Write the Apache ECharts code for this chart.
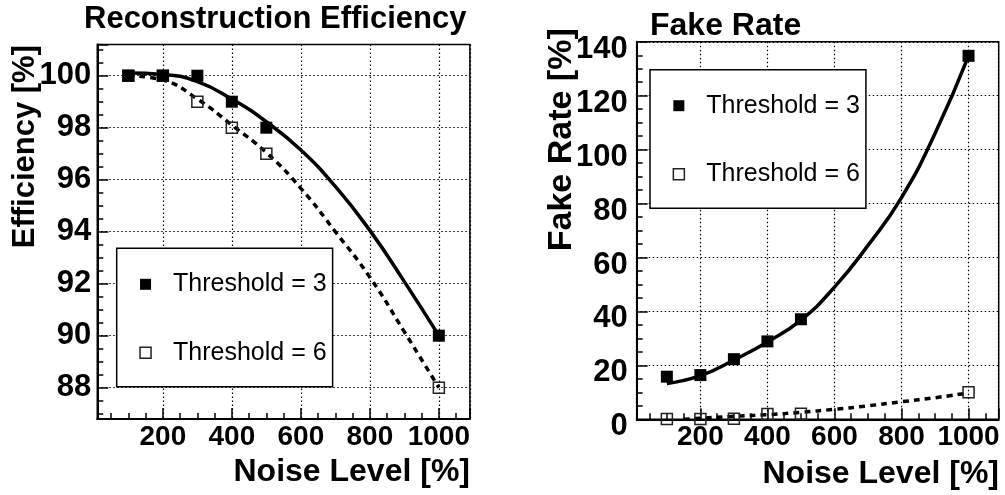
<!DOCTYPE html>
<html>
<head>
<meta charset="utf-8">
<script src="https://cdn.jsdelivr.net/npm/echarts@6/dist/echarts.min.js"></script>
<style>
  html, body { margin: 0; padding: 0; background: #fff; }
  #chart { width: 1005px; height: 495px; }
</style>
</head>
<body>
<div id="chart"></div>
<script>
// Noise levels at which the reconstruction was evaluated [%]
const noiseLevels = [100, 200, 300, 400, 500, 1000];

// Reconstruction efficiency [%] per clustering threshold
const effThreshold3 = [100, 100, 100, 99, 98, 90];
const effThreshold6 = [100, 100, 99, 98, 97, 88];

// Fake rate [%] per clustering threshold
const fakeThreshold3 = [15.8, 16.4, 22.3, 28.9, 37.1, 134.8];
const fakeThreshold6 = [0.1, 0.1, 0.2, 2.0, 2.1, 10.0];

// Fitted trend curves, sampled along the noise axis
const fitNoise = [100, 200, 300, 400, 500, 600, 700, 800, 900, 1000];
const effFit3 = [100.1, 100.05, 99.77, 99.1, 98.23, 97.14, 95.74, 94.05, 92.08, 90.0];
const effFit6 = [100.0, 99.83, 99.1, 98.1, 97.04, 95.67, 94.0, 92.25, 90.15, 88.0];
const fakeFit3 = [13.3, 16.2, 22.0, 28.7, 36.8, 49.0, 64.5, 82.2, 106.0, 134.8];
const fakeFit6Noise = [150, 200, 300, 400, 500, 600, 700, 800, 900, 1000];
const fakeFit6 = [0.0, 0.4, 1.1, 1.7, 2.6, 3.7, 5.0, 6.5, 8.0, 9.8];

// Axis titles
const xTitle = 'Noise Level [%]';
const effTitle = 'Efficiency [%]';
const fakeTitle = 'Fake Rate [%]';
const legendNames = ['Threshold = 3', 'Threshold = 6'];

const FONT = '"Liberation Sans", Arial, Helvetica, sans-serif';
const plain = v => String(v);

function pairs(xs, ys) {
  return xs.map((x, i) => [x, ys[i]]);
}

function noiseAxis(gridIndex) {
  return {
    type: 'value', gridIndex: gridIndex,
    min: 10, max: 1090, splitNumber: 5,
    axisLine: { show: true, onZero: false, lineStyle: { color: '#000', width: 2 } },
    axisTick: { show: true, inside: true, length: 11, lineStyle: { color: '#000', width: 1.5 } },
    minorTick: { show: true, splitNumber: 4, length: 6, lineStyle: { color: '#000', width: 1.5 } },
    axisLabel: {
      showMinLabel: false, showMaxLabel: false, margin: 4, formatter: plain,
      color: '#000', fontSize: 28, fontWeight: 'bold', fontFamily: FONT
    },
    splitLine: { show: true, lineStyle: { color: '#000', width: 1.2, type: [1.5, 2.5] } }
  };
}

function valueAxis(gridIndex, extra, labelExtra) {
  return Object.assign({
    type: 'value', gridIndex: gridIndex,
    axisLine: { show: true, onZero: false, lineStyle: { color: '#000', width: 2 } },
    axisTick: { show: true, inside: true, length: 11, lineStyle: { color: '#000', width: 1.5 } },
    minorTick: { show: true, splitNumber: 4, length: 6, lineStyle: { color: '#000', width: 1.5 } },
    axisLabel: Object.assign({
      margin: 6, formatter: plain, color: '#000', fontSize: 31, fontWeight: 'bold', fontFamily: FONT
    }, labelExtra),
    splitLine: { show: true, lineStyle: { color: '#000', width: 1.2, type: [1.5, 2.5] } }
  }, extra);
}

function fitLine(gridIndex, name, data, dashed) {
  return {
    type: 'line', name: name, xAxisIndex: gridIndex, yAxisIndex: gridIndex,
    data: data, smooth: 0.5, showSymbol: false, symbol: 'none', silent: true,
    clip: true,
    lineStyle: { color: '#000', width: 3.5, type: dashed ? [6, 5] : 'solid' },
    z: 2
  };
}

function markers(gridIndex, name, data, filled) {
  return {
    type: 'scatter', name: name, xAxisIndex: gridIndex, yAxisIndex: gridIndex,
    data: data, symbol: 'rect', symbolSize: filled ? 12 : 11,
    itemStyle: filled
      ? { color: '#000', opacity: 1 }
      : { color: 'rgba(255,255,255,0)', borderColor: '#222', borderWidth: 1.5, opacity: 1 },
    z: 3
  };
}

function legendBox(left, top) {
  return {
    orient: 'vertical', left: left, top: top,
    padding: [21, 6, 19, 22.6], itemGap: 38.5,
    itemWidth: 11, itemHeight: 11, icon: 'rect',
    backgroundColor: '#fff', borderColor: '#000', borderWidth: 1.5,
    selectedMode: false,
    textStyle: { fontSize: 25, color: '#000', fontFamily: FONT, lineHeight: 30, padding: [0, 0, 0, 17] },
    data: [
      { name: legendNames[0], itemStyle: { color: '#000', borderWidth: 0 } },
      { name: legendNames[1], itemStyle: { color: '#fff', borderColor: '#222', borderWidth: 1.5 } }
    ],
    z: 10
  };
}

function titleText(x, y, text, size, rotated) {
  return {
    type: 'text', x: x, y: y, rotation: rotated ? Math.PI / 2 : 0, z: 20,
    style: {
      text: text, fill: '#000',
      font: 'bold ' + size + 'px ' + FONT,
      align: 'right', verticalAlign: 'middle',
      textAlign: 'right', textVerticalAlign: 'middle'
    }
  };
}

const chart = echarts.init(document.getElementById('chart'), null, { renderer: 'canvas' });

chart.setOption({
  animation: false,
  backgroundColor: '#fff',
  title: [
    { text: 'Reconstruction Efficiency', left: 84, top: 4, padding: 0,
      textStyle: { fontSize: 31, fontWeight: 'bold', color: '#000', fontFamily: FONT, lineHeight: 30 } },
    { text: 'Fake Rate', left: 650, top: 11, padding: 0,
      textStyle: { fontSize: 32, fontWeight: 'bold', color: '#000', fontFamily: FONT, lineHeight: 30 } }
  ],
  grid: [
    { left: 97.3, top: 44.5, width: 372.6, height: 374.4, show: true,
      borderColor: '#000', borderWidth: 1.5, backgroundColor: 'transparent' },
    { left: 636.7, top: 41.8, width: 362, height: 377.5, show: true,
      borderColor: '#000', borderWidth: 1.5, backgroundColor: 'transparent' }
  ],
  xAxis: [noiseAxis(0), noiseAxis(1)],
  yAxis: [
    valueAxis(0, { min: 86.8, max: 101.2, splitNumber: 7 },
      { showMinLabel: false, showMaxLabel: false, margin: 6 }),
    valueAxis(1, { min: 0, max: 140, interval: 20 },
      { margin: 9, verticalAlign: 'top', lineHeight: 15 })
  ],
  legend: [legendBox(116.7, 248.3), legendBox(650, 69.7)],
  graphic: [
    titleText(25.8, 45, effTitle, 31, true),
    titleText(561.8, 28.3, fakeTitle, 34, true),
    titleText(470, 472, xTitle, 32, false),
    titleText(999, 474, xTitle, 32, false)
  ],
  series: [
    fitLine(0, 'Efficiency fit, threshold 6', pairs(fitNoise, effFit6), true),
    fitLine(0, 'Efficiency fit, threshold 3', pairs(fitNoise, effFit3), false),
    markers(0, legendNames[1], pairs(noiseLevels, effThreshold6), false),
    markers(0, legendNames[0], pairs(noiseLevels, effThreshold3), true),
    fitLine(1, 'Fake rate fit, threshold 6', pairs(fakeFit6Noise, fakeFit6), true),
    fitLine(1, 'Fake rate fit, threshold 3', pairs(fitNoise, fakeFit3), false),
    markers(1, legendNames[1], pairs(noiseLevels, fakeThreshold6), false),
    markers(1, legendNames[0], pairs(noiseLevels, fakeThreshold3), true)
  ]
});
</script>
</body>
</html>
